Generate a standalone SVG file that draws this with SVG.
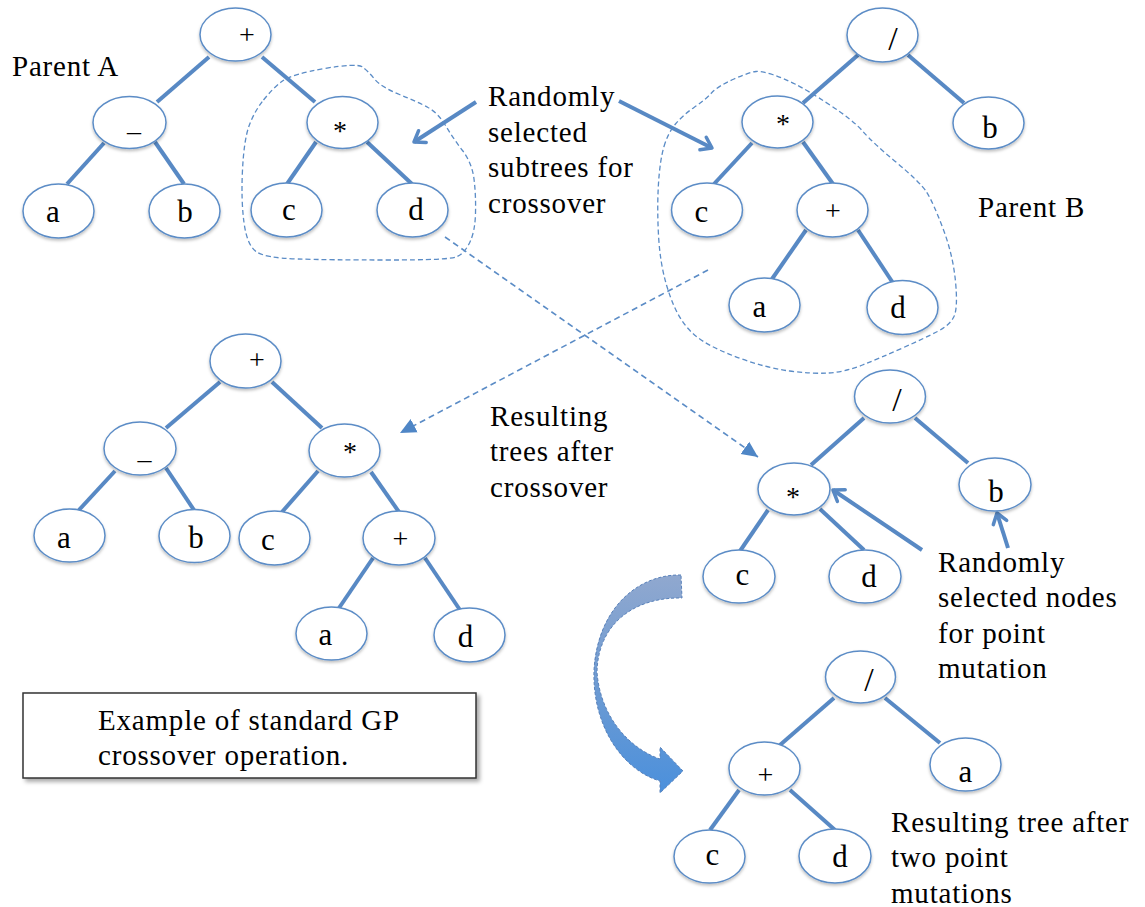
<svg xmlns="http://www.w3.org/2000/svg" width="1145" height="907" viewBox="0 0 1145 907">
  <style>
    text { font-family: "Liberation Serif", "Times New Roman", serif; font-size: 29px; fill: #000; letter-spacing: 0.8px; }
    .lbl { text-anchor: middle; font-size: 31px; letter-spacing: 0; }
    .op { font-size: 28px; }
    .star { font-size: 28px; }
    .slash { font-size: 34px; }
    .node ellipse { fill: #fff; stroke: #5b8cc6; stroke-width: 1.5; filter: url(#shadow); }
    .edge { stroke: #5889c4; stroke-width: 4; fill: none; }
    .loop { stroke: #5b8cc6; stroke-width: 1.3; stroke-dasharray: 5 3; fill: none; }
    .xover { stroke: #5b8cc6; stroke-width: 1.6; stroke-dasharray: 6 4; fill: none; marker-end: url(#tri); }
    .pointer { stroke: #5889c4; stroke-width: 4; fill: none; marker-end: url(#chev); }
  </style>
  <defs>
    <filter id="shadow" x="-20%" y="-20%" width="140%" height="150%">
      <feDropShadow dx="0" dy="2" stdDeviation="1.5" flood-color="#000" flood-opacity="0.25"/>
    </filter>
    <filter id="boxshadow" x="-5%" y="-10%" width="110%" height="130%">
      <feDropShadow dx="3" dy="3" stdDeviation="2" flood-color="#000" flood-opacity="0.35"/>
    </filter>
    <marker id="tri" markerUnits="userSpaceOnUse" markerWidth="18" markerHeight="18" viewBox="0 0 18 16" refX="16" refY="8" orient="auto">
      <path d="M0,0.5 L16,8 L0,15.5 Z" fill="#4f86c6"/>
    </marker>
    <marker id="chev" markerUnits="userSpaceOnUse" markerWidth="20" markerHeight="20" viewBox="0 0 20 20" refX="15" refY="10" orient="auto">
      <path d="M5,3 L15,10 L5,17" fill="none" stroke="#5889c4" stroke-width="3.5" stroke-linecap="round" stroke-linejoin="round"/>
    </marker>
    <linearGradient id="bend" x1="0" y1="0" x2="0" y2="1">
      <stop offset="0" stop-color="#90a8cf"/>
      <stop offset="0.5" stop-color="#6e9bd2"/>
      <stop offset="1" stop-color="#4b90dc"/>
    </linearGradient>
  </defs>

  <!-- free labels -->
  <g id="labels">
    <text x="12" y="76">Parent A</text>
    <text x="978" y="217">Parent B</text>
    <text x="488" y="106">Randomly</text>
    <text x="488" y="142">selected</text>
    <text x="488" y="177">subtrees for</text>
    <text x="488" y="213">crossover</text>
    <text x="490" y="426">Resulting</text>
    <text x="490" y="461">trees after</text>
    <text x="490" y="497">crossover</text>
    <text x="938" y="572">Randomly</text>
    <text x="938" y="607">selected nodes</text>
    <text x="938" y="643">for point</text>
    <text x="938" y="678">mutation</text>
    <text x="891" y="832">Resulting tree after</text>
    <text x="891" y="867">two point</text>
    <text x="891" y="903">mutations</text>
  </g>

  <!-- caption box -->
  <g id="caption">
    <rect x="23" y="693" width="453" height="85" fill="#fff" stroke="#333" stroke-width="1.5" filter="url(#boxshadow)"/>
    <text x="98" y="730">Example of standard GP</text>
    <text x="98" y="765">crossover operation.</text>
  </g>

  <!-- connectors: tree edges, selection outlines, arrows -->
  <g id="connectors">
    <!-- parent A -->
    <line class="edge" x1="209" y1="57" x2="157" y2="102"/>
    <line class="edge" x1="262" y1="57" x2="315" y2="102"/>
    <line class="edge" x1="104" y1="143" x2="67" y2="184"/>
    <line class="edge" x1="155" y1="142" x2="184" y2="184"/>
    <line class="edge" x1="316" y1="142" x2="287" y2="184"/>
    <line class="edge" x1="367" y1="142" x2="412" y2="184"/>
    <!-- parent B -->
    <line class="edge" x1="858" y1="55" x2="803" y2="103"/>
    <line class="edge" x1="908" y1="55" x2="964" y2="103"/>
    <line class="edge" x1="752" y1="143" x2="714" y2="184"/>
    <line class="edge" x1="803" y1="142" x2="833" y2="184"/>
    <line class="edge" x1="806" y1="230" x2="772" y2="279"/>
    <line class="edge" x1="858" y1="230" x2="893" y2="283"/>
    <!-- offspring 1 -->
    <line class="edge" x1="220" y1="382" x2="166" y2="428"/>
    <line class="edge" x1="272" y1="382" x2="322" y2="428"/>
    <line class="edge" x1="115" y1="471" x2="78" y2="511"/>
    <line class="edge" x1="166" y1="468" x2="194" y2="510"/>
    <line class="edge" x1="318" y1="471" x2="282" y2="512"/>
    <line class="edge" x1="371" y1="472" x2="399" y2="512"/>
    <line class="edge" x1="373" y1="558" x2="339" y2="608"/>
    <line class="edge" x1="425" y1="558" x2="460" y2="610"/>
    <!-- offspring 2 -->
    <line class="edge" x1="864" y1="418" x2="811" y2="465"/>
    <line class="edge" x1="915" y1="418" x2="968" y2="463"/>
    <line class="edge" x1="768" y1="510" x2="740" y2="551"/>
    <line class="edge" x1="820" y1="509" x2="864" y2="550"/>
    <!-- mutated tree -->
    <line class="edge" x1="834" y1="698" x2="780" y2="745"/>
    <line class="edge" x1="885" y1="698" x2="940" y2="743"/>
    <line class="edge" x1="739" y1="790" x2="710" y2="830"/>
    <line class="edge" x1="790" y1="790" x2="835" y2="830"/>

    <!-- selected subtrees -->
    <path class="loop" d="M263.5,100 Q273,88 282.5,81 Q292,74 324.5,68.5 Q357,63 362.5,67 Q368,71 374.5,79 Q381,87 399.5,94.5 Q418,102 428,107.5 Q438,113 445.5,125.5 Q453,138 462.5,150.5 Q472,163 474,179 Q476,195 475.5,213.5 Q475,232 469.5,243 Q464,254 456,257 Q448,260 389,260 Q330,260 297.5,259 Q265,258 256,251.5 Q247,245 244,222.5 Q241,200 242.5,170 Q244,140 249,126 Q254,112 263.5,100 Z"/>
    <path class="loop" d="M664,146.5 Q668,133 675.5,124 Q683,115 694,107.5 Q705,100 711.5,93 Q718,86 734,79 Q750,72 756,71.5 Q762,71 772.5,74.5 Q783,78 795,84 Q807,90 830,105 Q853,120 863,131.5 Q873,143 896.5,162.5 Q920,182 926.5,192 Q933,202 943,228.5 Q953,255 955.5,281.5 Q958,308 954,316.5 Q950,325 937.5,331.5 Q925,338 902.5,348 Q880,358 862.5,365 Q845,372 828.5,373 Q812,374 789.5,371 Q767,368 742,359 Q717,350 703.5,341.5 Q690,333 681.5,320 Q673,307 666.5,285 Q660,263 658.5,235 Q657,207 658.5,183.5 Q660,160 664,146.5 Z"/>

    <!-- subtree swap -->
    <line class="xover" x1="445" y1="237" x2="758" y2="457"/>
    <line class="xover" x1="708" y1="270" x2="400" y2="433"/>

    <!-- callout pointers -->
    <line class="pointer" x1="476" y1="102" x2="414" y2="142"/>
    <line class="pointer" x1="619" y1="101" x2="712" y2="148"/>
    <line class="pointer" x1="922" y1="550" x2="833" y2="490"/>
    <line class="pointer" x1="1008" y1="548" x2="997" y2="513"/>

    <!-- mutation step -->
    <path d="M681,575 C640,574 598,606 594,670 C592,725 622,770 660,781 L660,793 L683,771 L660,747 L660,759 C628,748 600,715 597,672 C598,624 634,597 682,598 Z" fill="url(#bend)" stroke="#5a82ba" stroke-width="1" stroke-dasharray="3 2"/>
  </g>

  <!-- parent A -->
  <g id="pa-root" class="node"><ellipse cx="235.5" cy="34.5" rx="35.5" ry="26.5"/><text class="lbl op" x="247" y="44">+</text></g>
  <g id="pa-minus" class="node"><ellipse cx="129.5" cy="122.5" rx="36.5" ry="26"/><text class="lbl op" x="134" y="140">–</text></g>
  <g id="pa-times" class="node"><ellipse cx="342.5" cy="122.5" rx="35.5" ry="26"/><text class="lbl star" x="340" y="140">*</text></g>
  <g id="pa-a" class="node"><ellipse cx="58.5" cy="211" rx="35.5" ry="27"/><text class="lbl" x="53" y="222">a</text></g>
  <g id="pa-b" class="node"><ellipse cx="184.5" cy="211" rx="35.5" ry="27"/><text class="lbl" x="185" y="222">b</text></g>
  <g id="pa-c" class="node"><ellipse cx="286.5" cy="210" rx="35.5" ry="27"/><text class="lbl" x="289" y="220">c</text></g>
  <g id="pa-d" class="node"><ellipse cx="412.5" cy="210" rx="35.5" ry="27"/><text class="lbl" x="416" y="220">d</text></g>

  <!-- parent B -->
  <g id="pb-root" class="node"><ellipse cx="882.5" cy="35" rx="35.5" ry="27"/><text class="lbl slash" x="893" y="50">/</text></g>
  <g id="pb-times" class="node"><ellipse cx="777.5" cy="122" rx="35.5" ry="26"/><text class="lbl star" x="783" y="133">*</text></g>
  <g id="pb-b" class="node"><ellipse cx="988.5" cy="123" rx="35.5" ry="26"/><text class="lbl" x="990" y="138">b</text></g>
  <g id="pb-c" class="node"><ellipse cx="707" cy="210" rx="35.5" ry="27"/><text class="lbl" x="701.5" y="222">c</text></g>
  <g id="pb-plus" class="node"><ellipse cx="832.5" cy="210" rx="35.5" ry="27"/><text class="lbl op" x="833" y="220">+</text></g>
  <g id="pb-a" class="node"><ellipse cx="764.5" cy="305" rx="35.5" ry="27"/><text class="lbl" x="759.5" y="317">a</text></g>
  <g id="pb-d" class="node"><ellipse cx="902.5" cy="307.5" rx="35.5" ry="27"/><text class="lbl" x="898" y="318">d</text></g>

  <!-- offspring 1 -->
  <g id="o1-root" class="node"><ellipse cx="245.5" cy="361" rx="35.5" ry="27"/><text class="lbl op" x="257" y="369">+</text></g>
  <g id="o1-minus" class="node"><ellipse cx="140" cy="448.5" rx="36" ry="26.5"/><text class="lbl op" x="144.5" y="468">–</text></g>
  <g id="o1-times" class="node"><ellipse cx="344.5" cy="450.5" rx="35.5" ry="26.5"/><text class="lbl star" x="350" y="461">*</text></g>
  <g id="o1-a" class="node"><ellipse cx="69.5" cy="535.5" rx="35.5" ry="26.5"/><text class="lbl" x="64" y="548">a</text></g>
  <g id="o1-b" class="node"><ellipse cx="194.5" cy="536" rx="35.5" ry="26.5"/><text class="lbl" x="196" y="548">b</text></g>
  <g id="o1-c" class="node"><ellipse cx="274.5" cy="538" rx="35.5" ry="27"/><text class="lbl" x="268" y="550">c</text></g>
  <g id="o1-plus" class="node"><ellipse cx="399" cy="538" rx="36" ry="27"/><text class="lbl op" x="400.5" y="548">+</text></g>
  <g id="o1-a2" class="node"><ellipse cx="331.5" cy="633.5" rx="35.5" ry="26.5"/><text class="lbl" x="325.5" y="645">a</text></g>
  <g id="o1-d" class="node"><ellipse cx="469.5" cy="635" rx="35.5" ry="27"/><text class="lbl" x="465.5" y="647">d</text></g>

  <!-- offspring 2 -->
  <g id="o2-root" class="node"><ellipse cx="890" cy="396.5" rx="35.5" ry="26.5"/><text class="lbl slash" x="897" y="411">/</text></g>
  <g id="o2-times" class="node"><ellipse cx="794" cy="489" rx="36" ry="26"/><text class="lbl star" x="793" y="506">*</text></g>
  <g id="o2-b" class="node"><ellipse cx="995" cy="484.5" rx="36" ry="26.5"/><text class="lbl" x="996" y="502">b</text></g>
  <g id="o2-c" class="node"><ellipse cx="739" cy="576.5" rx="36" ry="26.5"/><text class="lbl" x="742.5" y="585">c</text></g>
  <g id="o2-d" class="node"><ellipse cx="865" cy="576.5" rx="36" ry="26.5"/><text class="lbl" x="869" y="587">d</text></g>

  <!-- mutated offspring -->
  <g id="m-root" class="node"><ellipse cx="860.5" cy="677" rx="35" ry="26"/><text class="lbl slash" x="869" y="691">/</text></g>
  <g id="m-plus" class="node"><ellipse cx="764.5" cy="768.5" rx="35.5" ry="26.5"/><text class="lbl op" x="765.5" y="784">+</text></g>
  <g id="m-a" class="node"><ellipse cx="965.5" cy="764.5" rx="35.5" ry="26.5"/><text class="lbl" x="965.5" y="782">a</text></g>
  <g id="m-c" class="node"><ellipse cx="709.5" cy="856.5" rx="35.5" ry="26.5"/><text class="lbl" x="712.5" y="865">c</text></g>
  <g id="m-d" class="node"><ellipse cx="835" cy="856" rx="36" ry="27"/><text class="lbl" x="840" y="867">d</text></g>
</svg>
